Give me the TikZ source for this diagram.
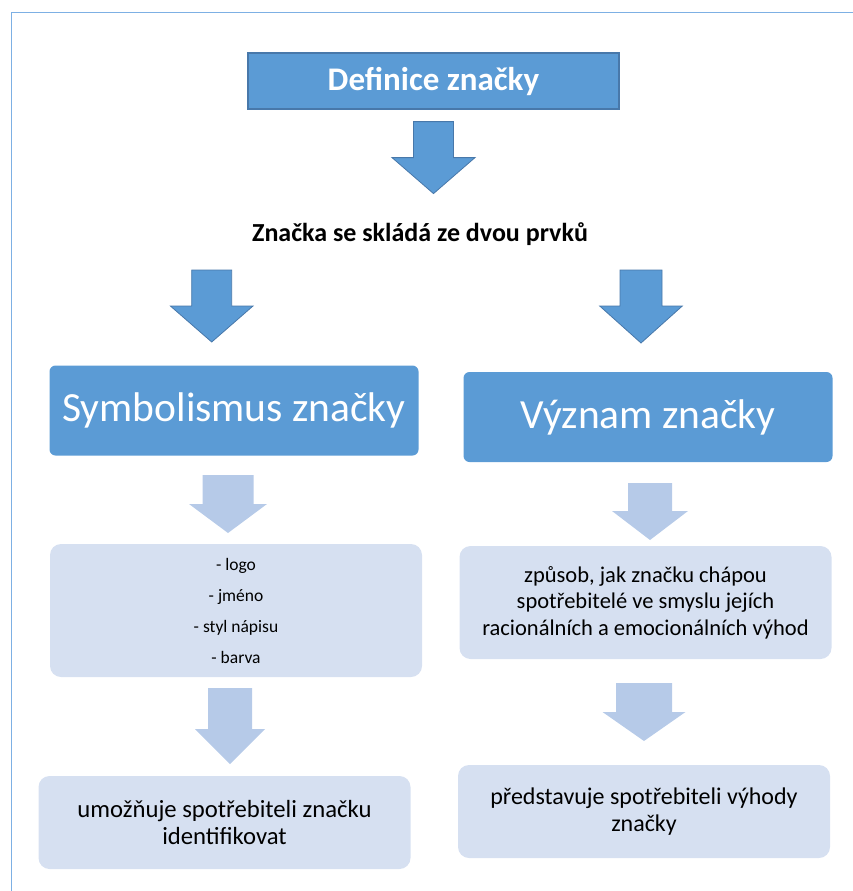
\documentclass[tikz,border=0pt]{standalone}
\usepackage{fontspec}
\setmainfont{Carlito}
\usepackage{xcolor}
\definecolor{darkblue}{RGB}{91,155,213}
\definecolor{edgeblue}{RGB}{72,120,170}
\definecolor{paleblue}{RGB}{214,224,241}
\definecolor{lightblue}{RGB}{182,202,232}
\definecolor{frameblue}{RGB}{125,176,228}
\usepackage{tikz}
\usetikzlibrary{calc}
\newcommand{\widthbox}{372pt}
\newcommand{\widthhead}{369pt}
\tikzset{
    common/.style={align=center, inner sep=0pt},
    title/.style={common, draw=edgeblue, line width=1.2pt, fill=darkblue, text=white,
        minimum width=371pt, minimum height=56pt, font=\fontsize{33}{38}\selectfont\bfseries},
    head/.style={common, rounded corners=6pt, fill=darkblue, text=white,
        minimum width=\widthhead, minimum height=90pt, font=\fontsize{41.5}{48}\selectfont},
    info/.style={common, rounded corners=11pt, fill=paleblue, minimum width=\widthbox,
        font=\fontsize{22.5}{26.5}\selectfont},
    listing/.style={info, font=\fontsize{17.5}{31}\selectfont},
    bigarrow/.style={fill=darkblue, draw=edgeblue, line width=0.8pt},
    softarrow/.style={fill=lightblue},
}
% #1 style, (#2) top of shaft, #3 half shaft, #4 half head, #5 shaft length, #6 head length
\newcommand{\blockarrow}[6]{%
    \path[#1] (#2) ++(-#3,0) -- ++(0,#5) -- ++(#3-#4,0) -- ++(#4,#6)
        -- ++(#4,-#6) -- ++(#3-#4,0) -- ++(0,-#5) -- cycle;}

\begin{document}
\begin{tikzpicture}[x=1pt, y=-1pt]
    \useasboundingbox (0,0) rectangle (853,891);
    \draw[frameblue, line width=1.5pt] (11.5,891) -- (11.5,12.5) -- (853,12.5);

    \node[title] (def) at (433.5,81) {Definice značky};
    \node[font=\fontsize{26}{30}\selectfont\bfseries] (skladba) at (420,234)
        {Značka se skládá ze dvou prvků};

    \node[head] (sym) at (234,410.5) {Symbolismus značky};
    \node[head] (vyz) at (648,417) {Význam značky};

    \node[listing, minimum height=133pt] (prvky) at (236,610.5)
        {- logo\\- jméno\\- styl nápisu\\- barva};
    \node[info, minimum height=93pt, font=\fontsize{24.7}{26.5}\selectfont] (ident) at (224.5,822.5)
        {umožňuje spotřebiteli značku\\identifikovat};
    \node[info, minimum height=113pt] (zpusob) at (645.5,602.5)
        {způsob, jak značku chápou\\spotřebitelé ve smyslu jejích\\racionálních a emocionálních výhod};
    \node[info, minimum height=93pt, font=\fontsize{24}{26.5}\selectfont] (vyhody) at (644,811.5)
        {představuje spotřebiteli výhody\\značky};

    % arrows
    \coordinate (a1) at ($(def.south)+(0,12)$);
    \coordinate (a2) at (211.7,270);
    \coordinate (a3) at (641,270);
    \blockarrow{bigarrow}{a1}{20}{41.5}{36}{36}
    \blockarrow{bigarrow}{a2}{20}{41.3}{36}{36}
    \blockarrow{bigarrow}{a3}{21}{41.3}{36}{37}

    \coordinate (a4) at (228,475);
    \coordinate (a5) at (650,483);
    \coordinate (a6) at (230,688);
    \coordinate (a7) at (644,683);
    \blockarrow{softarrow}{a4}{25.5}{39}{29}{29}
    \blockarrow{softarrow}{a5}{22}{38}{28}{29}
    \blockarrow{softarrow}{a6}{22}{35}{41}{35}
    \blockarrow{softarrow}{a7}{28}{41.5}{29}{29}
\end{tikzpicture}
\end{document}
